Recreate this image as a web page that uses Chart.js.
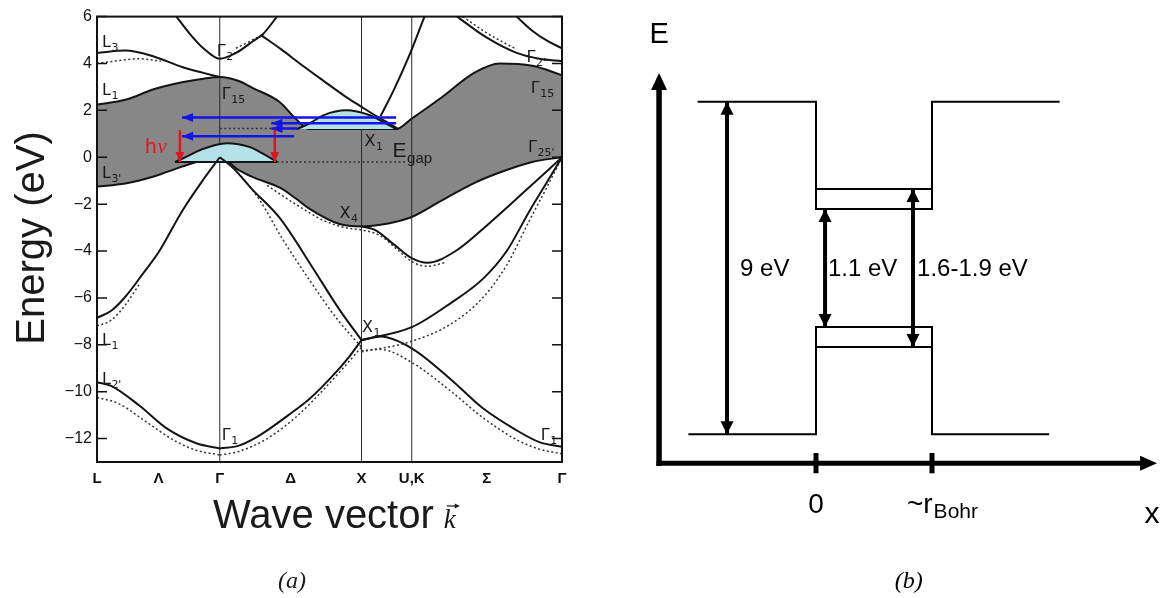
<!DOCTYPE html>
<html><head><meta charset="utf-8">
<script src="https://cdn.jsdelivr.net/npm/chart.js@4.4.1/dist/chart.umd.min.js"></script>
<style>
html,body{margin:0;padding:0;background:#fff;}
#wrap{position:relative;width:1165px;height:598px;overflow:hidden;background:#fff;}
#cl{position:absolute;left:0;top:0;}
#cr{position:absolute;left:640px;top:0;}
</style></head><body>
<div id="wrap"><canvas id="cl" width="640" height="598"></canvas><canvas id="cr" width="525" height="598"></canvas></div>
<script>
// ---------- (a) band structure data ----------
const kLabelPos = [0, 0.433, 0.866, 1.366, 1.866, 2.22, 2.75, 3.28];
const kLabels = ['L', 'Λ', 'Γ', 'Δ', 'X', 'U,K', 'Σ', 'Γ'];
const kSymLines = [0.866, 1.866, 2.22];
const eTicks = [-12, -10, -8, -6, -4, -2, 0, 2, 4, 6];

const gapK      = [0, 0.2, 0.4, 0.6, 0.75, 0.866, 1.0, 1.1, 1.29, 1.4, 1.5, 1.71, 1.866, 2.0, 2.11, 2.22, 2.43, 2.66, 2.84, 3.07, 3.28];
const gapTop    = [2.25, 2.45, 2.9, 3.2, 3.35, 3.42, 3.25, 2.95, 2.35, 1.65, 1.2, 1.2, 1.2, 1.2, 1.2, 1.65, 2.55, 3.6, 4.0, 3.9, 3.5];
const gapBottom = [-1.25, -1.12, -0.82, -0.4, -0.12, 0, -0.55, -0.85, -1.3, -1.75, -2.2, -2.85, -2.95, -2.88, -2.75, -2.55, -1.85, -1.1, -0.65, -0.2, 0];

const bandL2G1  = [[0,-9.6],[0.1,-9.75],[0.3,-10.6],[0.5,-11.6],[0.7,-12.2],[0.866,-12.42]];
const bandG1X1  = [[0.866,-12.42],[1.0,-12.3],[1.15,-11.85],[1.35,-11.0],[1.5,-10.3],[1.65,-9.4],[1.78,-8.5],[1.866,-7.8]];
const bandX1G1  = [[1.866,-7.8],[2.0,-7.65],[2.22,-8.15],[2.5,-9.5],[2.72,-10.7],[2.96,-11.65],[3.12,-12.15],[3.28,-12.35]];
const bandL1G25 = [[0,-6.85],[0.1,-6.55],[0.2,-5.95],[0.32,-5.0],[0.44,-4.0],[0.6,-2.3],[0.75,-0.95],[0.866,0]];
const bandG25X1 = [[0.866,0],[0.95,-0.4],[1.1,-1.4],[1.29,-2.6],[1.52,-4.7],[1.71,-6.5],[1.866,-7.8]];
const bandX1G25 = [[1.866,-7.8],[2.22,-7.25],[2.5,-6.2],[2.72,-5.2],[2.89,-4.0],[3.05,-2.3],[3.18,-1.0],[3.28,0]];
const bandX4G25 = [[1.866,-2.95],[1.96,-3.1],[2.1,-3.75],[2.22,-4.3],[2.33,-4.5],[2.53,-4.0],[2.77,-2.8],[3.0,-1.55],[3.28,0]];
const bandL3G15 = [[0,4.45],[0.2,4.55],[0.4,4.3],[0.6,3.85],[0.75,3.6],[0.866,3.42]];
const bandG2    = [[0.56,6],[0.65,5.3],[0.75,4.65],[0.866,4.2],[0.98,4.45],[1.1,4.95],[1.17,5.25],[1.27,6]];
const bandDelta = [[1.16,5.2],[1.3,4.6],[1.43,4.0],[1.6,3.25],[1.75,2.6],[1.866,2.15],[1.98,1.72],[2.06,1.45],[2.12,1.22]];
const bandXU    = [[2.0,1.75],[2.1,2.95],[2.2,4.3],[2.31,6]];
const bandSig1  = [[2.54,6],[2.75,5.1],[2.96,4.45],[3.12,4.2],[3.28,4.1]];
const bandSig2  = [[2.96,6],[3.07,5.4],[3.18,4.95],[3.28,4.65]];

const dotL2G1  = [[0,-10.25],[0.15,-10.5],[0.35,-11.3],[0.55,-12.1],[0.7,-12.5],[0.866,-12.7]];
const dotG1X1  = [[0.866,-12.7],[1.0,-12.55],[1.2,-12.0],[1.4,-11.1],[1.6,-9.9],[1.75,-8.9],[1.866,-8.1]];
const dotX1G1  = [[1.866,-8.25],[2.0,-8.2],[2.22,-8.75],[2.5,-10.0],[2.72,-11.1],[2.96,-12.05],[3.12,-12.45],[3.28,-12.65]];
const dotL1    = [[0,-7.2],[0.1,-6.95],[0.2,-6.3],[0.3,-5.4]];
const dotG25X1 = [[0.9,-0.15],[1.0,-0.7],[1.15,-1.85],[1.3,-3.4],[1.5,-5.25],[1.7,-6.95],[1.866,-8.1]];
const dotX1G25 = [[1.866,-8.3],[2.22,-7.85],[2.5,-7.1],[2.72,-6.0],[2.89,-4.6],[3.05,-2.7],[3.18,-1.2],[3.28,0]];
const dotX4    = [[1.2,-1.2],[1.4,-2.0],[1.6,-2.7],[1.75,-3.0],[1.866,-3.1],[2.0,-3.35],[2.12,-3.95],[2.22,-4.45],[2.33,-4.65],[2.45,-4.5]];
const dotL3    = [[0,4.0],[0.15,4.12],[0.3,4.2],[0.45,4.1]];
const dotG2    = [[0.98,4.65],[1.08,4.95],[1.17,5.25]];
const dotSig   = [[2.58,6],[2.75,5.3],[2.96,4.6]];
const egapDot1 = [[0.866,1.23],[1.41,1.23]];
const egapDot2 = [[1.27,-0.2],[2.18,-0.2]];

const holeHump = [[0.55,-0.2],[0.64,0.05],[0.725,0.3],[0.915,0.6],[1.08,0.43],[1.17,0.15],[1.27,-0.2]];
const holeBase = -0.2;
const elecHump = [[1.41,1.2],[1.5,1.45],[1.6,1.8],[1.76,2.0],[1.92,1.8],[2.02,1.5],[2.11,1.2]];
const elecBase = 1.2;

const photonE    = [1.7, 1.45, 1.23, 0.9];
const photonFrom = [2.11, 2.11, 1.41, 1.39];
const photonTo   = [0.6, 1.23, 1.23, 0.6];
const absorbK    = [0.585, 1.254];
const absorbTop  = [1.15, 1.24];
const absorbBottom = -0.2;

// ---------- (b) quantum dot diagram data ----------
const condX    = [-1.02, 0, 0, 1, 1, 2.1];
const condEdge = [9, 9, 6.1, 6.1, 9, 9];
const valX     = [-1.1, 0, 0, 1, 1, 2.01];
const valEdge  = [0, 0, 2.9, 2.9, 0, 0];
const dotX     = [0, 1];
const condLevel = [6.64, 6.64];
const valLevel  = [2.36, 2.36];
const gapArrowX    = [-0.767, 0.078, 0.836];
const gapArrowLow  = [0, 2.9, 2.36];
const gapArrowHigh = [9, 6.1, 6.64];
const gapArrowText = ['9 eV', '1.1 eV', '1.6-1.9 eV'];
const posTicks = [0, 1];
const axisX = -1.353, axisY = -0.786, eAxisTip = 9.78, xAxisTip = 2.94;

// ---------- helpers ----------
const pts = a => a.map(p => ({x: p[0], y: p[1]}));
function curve(a, extra) {
  return Object.assign({data: pts(a), showLine: true, pointRadius: 0, pointHoverRadius: 0,
    borderColor: '#141414', borderWidth: 2, fill: false, cubicInterpolationMode: 'monotone', order: 1}, extra || {});
}
const straight = {cubicInterpolationMode: 'default', tension: 0};
function arrowHead(ctx, tx, ty, dx, dy, len, half) {
  const bx = tx - dx * len, by = ty - dy * len;
  ctx.beginPath(); ctx.moveTo(tx, ty);
  ctx.lineTo(bx - dy * half, by + dx * half);
  ctx.lineTo(bx + dy * half, by - dx * half);
  ctx.closePath(); ctx.fill();
}
function subLabel(ctx, px, py, main, sub, font, subFont, dy) {
  ctx.textAlign = 'left'; ctx.textBaseline = 'alphabetic';
  ctx.font = font; ctx.fillText(main, px, py);
  const w = ctx.measureText(main).width;
  ctx.font = subFont; ctx.fillText(sub, px + w + 0.5, py + dy);
}

// ---------- (a) datasets ----------
const dsA = [];
dsA.push(curve(gapK.map((k, i) => [k, gapTop[i]]), {fill: 1, backgroundColor: '#878787', order: 30}));
dsA.push(curve(gapK.map((k, i) => [k, gapBottom[i]]), {order: 29}));
kSymLines.forEach(k => dsA.push(curve([[k, -13], [k, 6]], Object.assign({borderWidth: 1, borderColor: '#2a2a2a', order: 25}, straight))));
dsA.push(curve(holeHump, {fill: {value: holeBase}, backgroundColor: '#b4e2e8', order: 10}));
dsA.push(curve([[holeHump[0][0], holeBase], [holeHump[holeHump.length - 1][0], holeBase]], Object.assign({order: 9}, straight)));
dsA.push(curve(elecHump, {fill: {value: elecBase}, backgroundColor: '#b4e2e8', order: 10}));
[bandL2G1, bandG1X1, bandX1G1, bandL1G25, bandG25X1, bandX1G25, bandX4G25, bandL3G15, bandG2, bandDelta, bandXU, bandSig1, bandSig2]
  .forEach(b => dsA.push(curve(b)));
[dotL2G1, dotG1X1, dotX1G1, dotL1, dotG25X1, dotX1G25, dotX4, dotL3, dotG2, dotSig, egapDot1, egapDot2]
  .forEach(b => dsA.push(curve(b, {borderDash: [2, 2.5], borderWidth: 1.5, borderColor: '#333', order: 2})));
photonE.forEach((e, i) => dsA.push(curve([[photonTo[i], e], [photonFrom[i], e]], Object.assign({borderColor: '#1414e6', borderWidth: 2.5, order: 0}, straight))));
absorbK.forEach((k, i) => dsA.push(curve([[k, absorbBottom], [k, absorbTop[i]]], Object.assign({borderColor: '#e4141e', borderWidth: 2.5, order: 0}, straight))));

const bandTags = [[0.035,4.69,'L','3'],[0.035,2.64,'L','1'],[0.035,-0.9,'L','3\''],[0.845,4.31,'Γ','2\''],
  [0.88,2.47,'Γ','15'],[1.887,0.47,'X','1'],[3.03,4.05,'Γ','2\''],[3.06,2.73,'Γ','15'],[3.04,0.21,'Γ','25\''],
  [1.71,-2.6,'X','4'],[1.87,-7.46,'X','1'],[0.035,-8.02,'L','1'],[0.035,-9.68,'L','2\''],[0.88,-12.07,'Γ','1'],[3.13,-12.07,'Γ','1']];

const leftDecor = {
  id: 'leftDecor',
  afterDatasetsDraw(chart) {
    const {ctx, chartArea: a, scales: {x, y}} = chart;
    ctx.save();
    ctx.strokeStyle = '#111'; ctx.lineWidth = 2;
    ctx.strokeRect(a.left, a.top, a.right - a.left, a.bottom - a.top);
    ctx.lineWidth = 1.5;
    eTicks.forEach(v => {
      const py = y.getPixelForValue(v);
      ctx.beginPath(); ctx.moveTo(a.left, py); ctx.lineTo(a.left + 10, py);
      ctx.moveTo(a.right, py); ctx.lineTo(a.right - 10, py); ctx.stroke();
    });
    ctx.fillStyle = '#1414e6';
    photonE.forEach((e, i) => arrowHead(ctx, x.getPixelForValue(photonTo[i]), y.getPixelForValue(e), -1, 0, 11, 4.5));
    ctx.fillStyle = '#e4141e';
    absorbK.forEach(k => arrowHead(ctx, x.getPixelForValue(k), y.getPixelForValue(absorbBottom), 0, 1, 10, 4.5));
    ctx.fillStyle = '#1a1a1a';
    bandTags.forEach(t => subLabel(ctx, x.getPixelForValue(t[0]), y.getPixelForValue(t[1]), t[2], t[3], '16px "DejaVu Sans"', '11px "DejaVu Sans"', 4));
    subLabel(ctx, x.getPixelForValue(2.085), y.getPixelForValue(0.0), 'E', 'gap', '21px "Liberation Sans"', '15px "Liberation Sans"', 6);
    ctx.fillStyle = '#e4141e';
    const hx = x.getPixelForValue(0.338), hy = y.getPixelForValue(0.17);
    ctx.font = '21px "Liberation Sans"'; ctx.fillText('h', hx, hy);
    const hw = ctx.measureText('h').width;
    ctx.font = 'italic 21px "Liberation Serif"'; ctx.fillText('ν', hx + hw + 1, hy);
    ctx.restore();
  },
  afterDraw(chart) {
    const {ctx, chartArea: a} = chart;
    ctx.save();
    ctx.fillStyle = '#1a1a1a';
    ctx.font = '40px "Liberation Sans"';
    ctx.translate(44, 238); ctx.rotate(-Math.PI / 2);
    ctx.textAlign = 'center'; ctx.textBaseline = 'alphabetic';
    ctx.fillText('Energy (eV)', 0, 0);
    ctx.restore();
    ctx.save();
    ctx.fillStyle = '#1a1a1a';
    ctx.textAlign = 'left'; ctx.textBaseline = 'alphabetic';
    ctx.font = '40px "Liberation Sans"';
    const tx = a.left + 116, ty = 528;
    ctx.fillText('Wave vector', tx, ty);
    const tw = ctx.measureText('Wave vector').width;
    ctx.font = 'italic 27px "Liberation Serif"';
    const kx = tx + tw + 10;
    ctx.fillText('k', kx, ty);
    ctx.strokeStyle = '#1a1a1a'; ctx.lineWidth = 1.2;
    ctx.beginPath(); ctx.moveTo(kx + 3, ty - 22); ctx.lineTo(kx + 14, ty - 22); ctx.stroke();
    arrowHead(ctx, kx + 16, ty - 22, 1, 0, 5, 2.5);
    ctx.font = 'italic 24px "Liberation Serif"'; ctx.textAlign = 'center';
    ctx.fillText('(a)', 292, 588);
    ctx.restore();
  }
};

new Chart(document.getElementById('cl'), {
  type: 'scatter',
  data: {datasets: dsA},
  options: {
    responsive: false, animation: false, devicePixelRatio: 1, events: [],
    layout: {padding: {left: 0, right: 78, top: 16.6, bottom: 0}},
    plugins: {legend: {display: false}, tooltip: {enabled: false}},
    scales: {
      x: {type: 'linear', min: 0, max: 3.28,
        grid: {display: false, drawTicks: false}, border: {display: false},
        afterBuildTicks: s => { s.ticks = kLabelPos.map(v => ({value: v})); },
        afterFit: s => { s.height = 136; },
        ticks: {autoSkip: false, maxRotation: 0, padding: 8, color: '#111',
          font: {family: 'Liberation Sans', size: 15, weight: 'bold'}, callback: (v, i) => kLabels[i]}},
      y: {type: 'linear', min: -13, max: 6,
        grid: {display: false, drawTicks: false}, border: {display: false},
        afterBuildTicks: s => { s.ticks = eTicks.map(v => ({value: v})); },
        afterFit: s => { s.width = 97; },
        ticks: {padding: 5, color: '#111', font: {family: 'Liberation Sans', size: 16},
          callback: v => v < 0 ? '\u2212' + Math.abs(v) : String(v)}}
    }
  },
  plugins: [leftDecor]
});

// ---------- (b) datasets ----------
function seg(xs, ys, extra) {
  return Object.assign({data: xs.map((v, i) => ({x: v, y: ys[i]})), showLine: true, pointRadius: 0, pointHoverRadius: 0,
    borderColor: '#000', borderWidth: 2, tension: 0, fill: false, clip: false}, extra || {});
}
const dsB = [];
dsB.push(seg(condX, condEdge));
dsB.push(seg(valX, valEdge));
dsB.push(seg(dotX, condLevel));
dsB.push(seg(dotX, valLevel));
dsB.push(seg([axisX, axisX], [axisY, eAxisTip - 0.4], {borderWidth: 5.5, borderCapStyle: 'square'}));
dsB.push(seg([axisX, xAxisTip - 0.12], [axisY, axisY], {borderWidth: 5, borderCapStyle: 'square'}));
posTicks.forEach(p => dsB.push(seg([p, p], [-0.51, -1.06], {borderWidth: 5})));
gapArrowX.forEach((p, i) => dsB.push(seg([p, p], [gapArrowLow[i], gapArrowHigh[i]], {borderWidth: 4})));

const rightDecor = {
  id: 'rightDecor',
  afterDatasetsDraw(chart) {
    const {ctx, scales: {x, y}} = chart;
    ctx.save();
    ctx.fillStyle = '#000';
    arrowHead(ctx, x.getPixelForValue(axisX), y.getPixelForValue(eAxisTip), 0, -1, 17, 8);
    arrowHead(ctx, x.getPixelForValue(xAxisTip), y.getPixelForValue(axisY), 1, 0, 17, 7.5);
    gapArrowX.forEach((p, i) => {
      const px = x.getPixelForValue(p);
      arrowHead(ctx, px, y.getPixelForValue(gapArrowHigh[i]), 0, -1, 13, 6.5);
      arrowHead(ctx, px, y.getPixelForValue(gapArrowLow[i]), 0, 1, 13, 6.5);
    });
    ctx.textBaseline = 'alphabetic';
    ctx.font = '29px "Liberation Sans"'; ctx.textAlign = 'center';
    ctx.fillText('E', x.getPixelForValue(axisX), y.getPixelForValue(10.59));
    ctx.font = '24px "Liberation Sans"'; ctx.textAlign = 'left';
    const lblLeft = [-0.655, 0.103, 0.871];
    gapArrowText.forEach((t, i) => ctx.fillText(t, x.getPixelForValue(lblLeft[i]), y.getPixelForValue(4.28)));
    ctx.font = '28px "Liberation Sans"'; ctx.textAlign = 'center';
    ctx.fillText('0', x.getPixelForValue(posTicks[0]), y.getPixelForValue(-2.13));
    ctx.textAlign = 'left';
    const rx = x.getPixelForValue(0.784), ry = y.getPixelForValue(-2.13);
    ctx.fillText('~r', rx, ry);
    const rw = ctx.measureText('~r').width;
    ctx.font = '21px "Liberation Sans"'; ctx.fillText('Bohr', rx + rw + 1, ry + 5);
    ctx.font = '30px "Liberation Sans"'; ctx.textAlign = 'center';
    ctx.fillText('x', x.getPixelForValue(2.897), y.getPixelForValue(-2.4));
    ctx.font = 'italic 24px "Liberation Serif"';
    ctx.fillText('(b)', x.getPixelForValue(0.80), y.getPixelForValue(-4.17));
    ctx.restore();
  }
};

new Chart(document.getElementById('cr'), {
  type: 'scatter',
  data: {datasets: dsB},
  options: {
    responsive: false, animation: false, devicePixelRatio: 1, events: [],
    layout: {padding: {left: 2, right: 1, top: 28, bottom: 53}},
    plugins: {legend: {display: false}, tooltip: {enabled: false}},
    scales: {x: {type: 'linear', min: -1.5, max: 3.0, display: false},
             y: {type: 'linear', min: -3, max: 11, display: false}}
  },
  plugins: [rightDecor]
});
</script></body></html>
